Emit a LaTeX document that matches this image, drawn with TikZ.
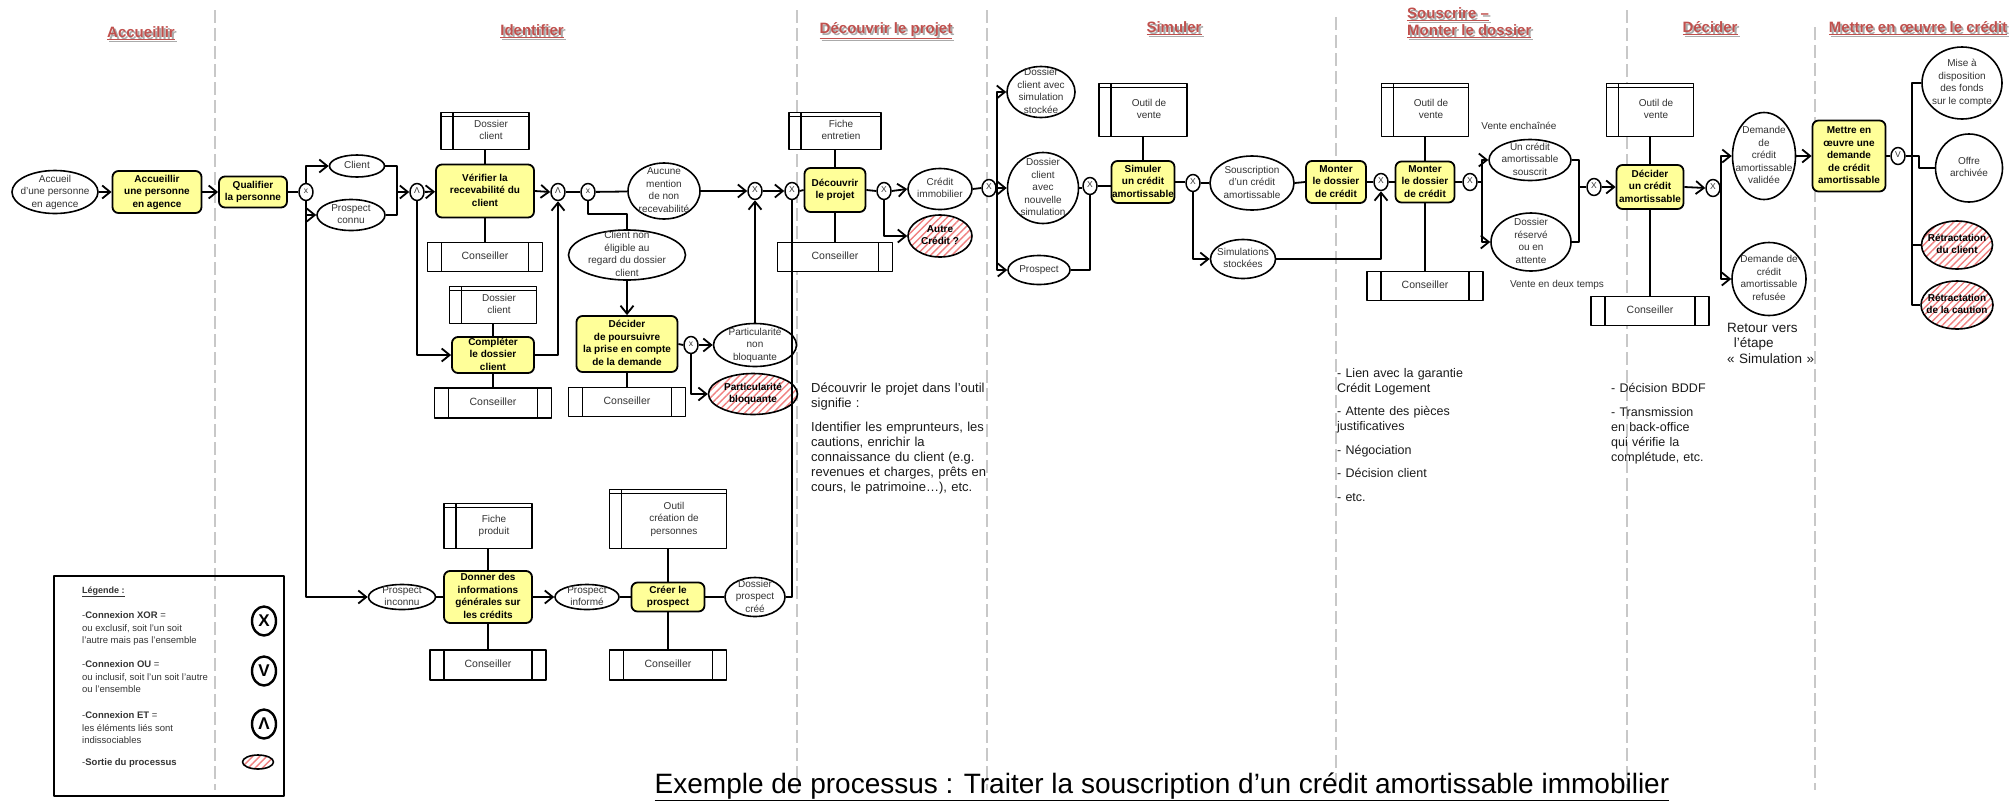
\documentclass[tikz,border=0pt]{standalone}
\usepackage{fontspec}
\setmainfont{Liberation Sans}
\usetikzlibrary{arrows.meta,shapes.geometric,patterns.meta}
\definecolor{boxyel}{HTML}{FFFF99}
\definecolor{txt}{HTML}{333333}
\definecolor{ttlred}{HTML}{C0504D}
\definecolor{ttlshadow}{HTML}{AAAAAA}
\definecolor{hatch}{HTML}{F08080}
\definecolor{sepgray}{HTML}{C8C8C8}
\definecolor{notetxt}{HTML}{1A1A1A}
\newcommand\ntx[2][0pt]{\makebox[0pt]{\hspace*{#1}\smash{\raisebox{-0.25em}{\begin{tabular}{@{}c@{}}#2\end{tabular}}}}}
\begin{document}
\begin{tikzpicture}[x=1pt,y=-1pt,line join=round,
 sz/.style 2 args={minimum width=#1pt,minimum height=#2pt},
 box/.style={rectangle,rounded corners=6pt,draw,fill=boxyel,line width=1.8pt,inner sep=0pt,font=\fontsize{10}{12.5}\selectfont\bfseries},
 evt/.style={ellipse,draw,fill=white,line width=1.6pt,inner sep=0pt,text=txt,font=\fontsize{10}{12.5}\selectfont},
 exitevt/.style={ellipse,draw,line width=1.6pt,inner sep=0pt,pattern={Lines[angle=45,distance=5pt,line width=1.4pt]},pattern color=hatch,font=\fontsize{10}{12.5}\selectfont\bfseries},
 gate/.style={ellipse,draw,fill=white,line width=1.5pt,inner sep=0pt,minimum width=14pt,minimum height=17pt,text=txt,font=\fontsize{8.5}{9}\selectfont},
 lgate/.style={ellipse,draw,fill=white,line width=2.4pt,inner sep=0pt,minimum width=24pt,minimum height=29pt,font=\fontsize{17}{28}\selectfont\bfseries},
 doc/.style={rectangle,draw,fill=white,line width=1.6pt,inner sep=0pt,text=txt,font=\fontsize{10}{12.5}\selectfont,
   path picture={\draw[line width=1.6pt] ([xshift=12pt]path picture bounding box.north west) -- ([xshift=12pt]path picture bounding box.south west);
   \draw[line width=1.6pt] ([yshift=-4pt]path picture bounding box.north west) -- ([yshift=-4pt]path picture bounding box.north east);}},
 actor/.style={rectangle,draw,fill=white,line width=1.6pt,inner sep=0pt,text=txt,font=\fontsize{10.5}{12.5}\selectfont,
   path picture={\draw[line width=1.6pt] ([xshift=14pt]path picture bounding box.north west) -- ([xshift=14pt]path picture bounding box.south west);
   \draw[line width=1.6pt] ([xshift=-14pt]path picture bounding box.north east) -- ([xshift=-14pt]path picture bounding box.south east);}},
 conn/.style={line width=1.8pt},
 arr/.style={conn,-{Straight Barb[length=8pt,width=13pt]}},
 ttl/.style={text=ttlred,font=\fontsize{15}{17}\selectfont\bfseries,inner sep=0pt},
 ttlsh/.style={text=ttlshadow,font=\fontsize{15}{17}\selectfont\bfseries,inner sep=0pt},
 sep/.style={draw=sepgray,line width=2pt,dash pattern=on 13pt off 5pt},
 note/.style={align=left,inner sep=0pt,text=notetxt,text width=210pt},
 smalltxt/.style={inner sep=0pt,text=txt,font=\fontsize{10}{12}\selectfont},
 lgtxt/.style={inner sep=0pt,text=txt,align=left,font=\fontsize{9.5}{12.5}\selectfont}
]
\useasboundingbox (0,0) rectangle (2015,804);
% separators
\foreach \sx/\sy in {215/10,797/10,987/10,1336/17,1627/10,1815/27} \draw[sep] (\sx,\sy) -- (\sx,790);

% titles
\node[ttlsh] (t1s) at (143,35) {\underline{Accueillir}};
\node[ttl] (t1) at (141,33) {\underline{Accueillir}};
\node[ttlsh] (t2s) at (534,33) {\underline{Identifier}};
\node[ttl] (t2) at (532,31) {\underline{Identifier}};
\node[ttlsh] (t3s) at (888,33) {\underline{Découvrir le projet}};
\node[ttl] (t3) at (886,31) {\underline{Découvrir le projet}};
\node[ttlsh] (t4s) at (1176,30) {\underline{Simuler}};
\node[ttl] (t4) at (1174,28) {\underline{Simuler}};
\node[ttlsh,align=left,anchor=west] (t5s) at (1409,25) {\underline{Souscrire –}\\\underline{Monter le dossier}};
\node[ttl,align=left,anchor=west] (t5) at (1407,23) {\underline{Souscrire –}\\\underline{Monter le dossier}};
\node[ttlsh] (t6s) at (1712,30) {\underline{Décider}};
\node[ttl] (t6) at (1710,28) {\underline{Décider}};
\node[ttlsh] (t7s) at (1920,30) {\underline{Mettre en œuvre le crédit}};
\node[ttl] (t7) at (1918,28) {\underline{Mettre en œuvre le crédit}};

% nodes - top flow
\node[evt,sz={86}{43}] (eAccueil) at (55,192) {\ntx{Accueil\\d’une personne\\en agence}};
\node[box,sz={89}{42}] (bAccueillir) at (157,192) {\ntx{Accueillir\\une personne\\en agence}};
\node[box,sz={68}{31}] (bQualifier) at (253,192) {\ntx{Qualifier\\la personne}};
\node[gate] (g1) at (306,192) {\ntx{x}};
\node[evt,sz={55}{22}] (eClient) at (357,166) {\ntx{Client}};
\node[evt,sz={68}{31}] (ePconnu) at (351,215) {\ntx{Prospect\\connu}};
\coordinate (j1) at (397,192);
\node[gate] (g2) at (417,192) {\ntx{Λ}};
\node[box,sz={98}{53}] (bVerifier) at (485,191) {\ntx{Vérifier la\\recevabilité du\\client}};
\node[doc,sz={88}{37}] (dDc1) at (485,131) {\ntx[12pt]{Dossier\\client}};
\node[actor,sz={115}{29}] (aC1) at (485,257) {\ntx{Conseiller}};
\node[doc,sz={87}{37}] (dDc2) at (493,305) {\ntx[12pt]{Dossier\\client}};
\node[box,sz={82}{36}] (bCompleter) at (493,355) {\ntx{Compléter\\le dossier\\client}};
\node[actor,sz={117}{30}] (aC2) at (493,403) {\ntx{Conseiller}};
\node[gate] (g3) at (558,192) {\ntx{Λ}};
\node[gate] (g4) at (588,192) {\ntx{x}};
\node[evt,sz={72}{56}] (eAucune) at (664,191) {\ntx{Aucune\\mention\\de non\\recevabilité}};
\coordinate (c1) at (627,214);
\node[evt,sz={117}{50}] (eNonElig) at (627,255) {\ntx{Client non\\éligible au\\regard du dossier\\client}};
\node[box,sz={101}{56}] (bDecider1) at (627,344) {\ntx{Décider\\de poursuivre\\la prise en compte\\de la demande}};
\node[actor,sz={117}{29}] (aC3) at (627,402) {\ntx{Conseiller}};
\node[gate] (g5) at (691,345) {\ntx{x}};
\node[evt,sz={83}{43}] (eNonBloq) at (755,345) {\ntx{Particularité\\non\\bloquante}};
\node[exitevt,sz={89}{41}] (eBloq) at (753,394) {\ntx{Particularité\\bloquante}};
\node[gate] (g6) at (755,191) {\ntx{X}};
\node[gate] (g7) at (792,191) {\ntx{X}};
\node[doc,sz={92}{37}] (dFiche) at (835,131) {\ntx[12pt]{Fiche\\entretien}};
\node[box,sz={61}{44}] (bDecouvrir) at (835,190) {\ntx{Découvrir\\le projet}};
\node[actor,sz={115}{29}] (aC4) at (835,257) {\ntx{Conseiller}};
\node[gate] (g8) at (884,191) {\ntx{X}};
\node[evt,sz={64}{41}] (eCredImmo) at (940,189) {\ntx{Crédit\\immobilier}};
\node[exitevt,sz={64}{42}] (eAutre) at (940,236) {\ntx{Autre\\Crédit ?}};
\node[gate] (g9) at (989,188) {\ntx{X}};
\node[evt,sz={68}{51}] (eDcSim) at (1041,92) {\ntx{Dossier\\client avec\\simulation\\stockée}};
\node[evt,sz={71}{71}] (eDcNouv) at (1043,188) {\ntx{Dossier\\client\\avec\\nouvelle\\simulation}};
\node[evt,sz={62}{29}] (eProspect) at (1039,270) {\ntx{Prospect}};
\node[gate] (g10) at (1090,186) {\ntx{X}};
\node[doc,sz={88}{53}] (dOutil1) at (1143,110) {\ntx[12pt]{Outil de\\vente}};
\node[box,sz={63}{42}] (bSimuler) at (1143,182) {\ntx{Simuler\\un crédit\\amortissable}};
\node[gate] (g11) at (1193,183) {\ntx{X}};
\node[evt,sz={84}{54}] (eSouscr) at (1252,183) {\ntx{Souscription\\d’un crédit\\amortissable}};
\node[evt,sz={65}{39}] (eSimStock) at (1243,259) {\ntx{Simulations\\stockées}};
\node[box,sz={60}{42}] (bMonter1) at (1336,182) {\ntx{Monter\\le dossier\\de crédit}};
\node[gate] (g12) at (1381,182) {\ntx{X}};
\node[box,sz={59}{41}] (bMonter2) at (1425,182) {\ntx{Monter\\le dossier\\de crédit}};
\node[doc,sz={87}{53}] (dOutil2) at (1425,110) {\ntx[12pt]{Outil de\\vente}};
\node[actor,sz={116}{29}] (aC5) at (1425,286) {\ntx{Conseiller}};
\node[gate] (g13) at (1470,182) {\ntx{X}};
\coordinate (t13) at (1482,182);
\node[evt,sz={82}{41}] (eSouscrit) at (1530,160) {\ntx{Un crédit\\amortissable\\souscrit}};
\node[evt,sz={80}{58}] (eReserve) at (1531,242) {\ntx{Dossier\\réservé\\ou en\\attente}};
\coordinate (j14) at (1579,187);
\node[gate] (g14) at (1594,187) {\ntx{X}};
\node[box,sz={67}{44}] (bDecider2) at (1650,187) {\ntx{Décider\\un crédit\\amortissable}};
\node[doc,sz={87}{53}] (dOutil3) at (1650,110) {\ntx[12pt]{Outil de\\vente}};
\node[actor,sz={118}{29}] (aC6) at (1650,311) {\ntx{Conseiller}};
\node[gate] (g15) at (1713,188) {\ntx{X}};
\node[evt,sz={63}{87}] (eValid) at (1764,156) {\ntx{Demande\\de\\crédit\\amortissable\\validée}};
\node[evt,sz={74}{73}] (eRefus) at (1769,279) {\ntx{Demande de\\crédit\\amortissable\\refusée}};
\node[box,sz={73}{71}] (bMettre) at (1849,156) {\ntx{Mettre en\\œuvre une\\demande\\de crédit\\amortissable}};
\node[gate] (g16) at (1898,156) {\ntx{V}};
\coordinate (t16) at (1912,156);
\coordinate (o16) at (1919,156);
\node[evt,sz={80}{72}] (eMise) at (1962,83) {\ntx{Mise à\\disposition\\des fonds\\sur le compte}};
\node[evt,sz={67}{68}] (eOffre) at (1969,168) {\ntx{Offre\\archivée}};
\node[exitevt,sz={71}{48}] (eRetClient) at (1957,245) {\ntx{Rétractation\\du client}};
\node[exitevt,sz={72}{48}] (eRetCaution) at (1957,305) {\ntx{Rétractation\\de la caution}};

% bottom flow
\node[evt,sz={67}{25}] (ePinconnu) at (402,597) {\ntx{Prospect\\inconnu}};
\node[box,sz={88}{52}] (bDonner) at (488,597) {\ntx{Donner des\\informations\\générales sur\\les crédits}};
\node[doc,sz={88}{45}] (dFprod) at (488,526) {\ntx[12pt]{Fiche\\produit}};
\node[actor,sz={116}{30}] (aC7) at (488,665) {\ntx{Conseiller}};
\node[evt,sz={64}{25}] (ePinforme) at (587,597) {\ntx{Prospect\\informé}};
\node[box,sz={73}{29}] (bCreer) at (668,597) {\ntx{Créer le\\prospect}};
\node[doc,sz={117}{59}] (dOutilCre) at (668,519) {\ntx[12pt]{Outil\\création de\\personnes}};
\node[actor,sz={117}{30}] (aC8) at (668,665) {\ntx{Conseiller}};
\node[evt,sz={60}{39}] (eDpCree) at (755,597) {\ntx{Dossier\\prospect\\créé}};

% connectors
\draw[arr] (eAccueil) -- (bAccueillir);
\draw[arr] (bAccueillir) -- (bQualifier);
\draw[conn] (bQualifier) -- (g1);
\draw[arr] (g1.north) |- (eClient.west);
\draw[arr] (g1.south) |- (ePconnu.west);
\draw[arr] (g1.south) |- (ePinconnu.west);
\draw[conn] (eClient.east) -| (j1);
\draw[conn] (ePconnu.east) -| (j1);
\draw[arr] (j1) -- (g2.west);
\draw[arr] (g2) -- (bVerifier);
\draw[arr] (g2.south) |- (bCompleter.west);
\draw[conn] (dDc1) -- (bVerifier);
\draw[conn] (bVerifier) -- (aC1);
\draw[conn] (dDc2) -- (bCompleter);
\draw[conn] (bCompleter) -- (aC2);
\draw[arr] (bVerifier.east) -- (g3.west);
\draw[arr] (bCompleter.east) -| (g3.south);
\draw[conn] (g3) -- (g4);
\draw[conn] (g4) -- (eAucune);
\draw[arr] (eAucune.east) -- (g6.west);
\draw[conn] (g4.south) |- (c1) -- (eNonElig.north);
\draw[arr] (eNonElig.south) -- (bDecider1.north);
\draw[conn] (bDecider1) -- (aC3);
\draw[conn] (bDecider1.east) -- (g5.west);
\draw[arr] (g5.east) -- (eNonBloq.west);
\draw[arr] (g5.south) |- (eBloq.west);
\draw[arr] (eNonBloq.north) -- (g6.south);
\draw[arr] (g6.east) -- (g7.west);
\draw[conn] (g7.east) -- (bDecouvrir.west);
\draw[conn] (eDpCree.east) -| (g7.south);
\draw[conn] (dFiche) -- (bDecouvrir);
\draw[conn] (bDecouvrir) -- (aC4);
\draw[conn] (bDecouvrir.east) -- (g8.west);
\draw[arr] (g8.east) -- (eCredImmo.west);
\draw[arr] (g8.south) |- (eAutre.west);
\draw[conn] (eCredImmo.east) -- (g9.west);
\draw[arr] (g9.east) |- (eDcSim.west);
\draw[arr] (g9.east) -- (eDcNouv.west);
\draw[arr] (g9.east) |- (eProspect.west);
\draw[conn] (eDcNouv.east) -- (eDcNouv.east -| g10.west);
\draw[conn] (eProspect.east) -| (g10.south);
\draw[conn] (g10.east) -- (g10.east -| bSimuler.west);
\draw[conn] (dOutil1) -- (bSimuler);
\draw[conn] (bSimuler.east) -- (bSimuler.east -| g11.west);
\draw[conn] (g11.east) -- (eSouscr.west);
\draw[arr] (g11.south) |- (eSimStock.west);
\draw[conn] (eSouscr.east) -- (bMonter1.west);
\draw[conn] (bMonter1.east) -- (g12.west);
\draw[arr] (eSimStock.east) -| (g12.south);
\draw[conn] (g12.east) -- (bMonter2.west);
\draw[conn] (dOutil2) -- (bMonter2);
\draw[conn] (bMonter2) -- (aC5);
\draw[conn] (bMonter2.east) -- (g13.west);
\draw[conn] (g13.east) -- (t13);
\draw[arr] (t13) |- (eSouscrit.west);
\draw[arr] (t13) |- (eReserve.west);
\draw[conn] (eSouscrit.east) -| (j14);
\draw[conn] (eReserve.east) -| (j14);
\draw[conn] (j14) -- (g14.west);
\draw[arr] (g14.east) -- (bDecider2.west);
\draw[conn] (dOutil3) -- (bDecider2);
\draw[conn] (bDecider2) -- (aC6);
\draw[arr] (bDecider2.east) -- (g15.west);
\draw[arr] (g15.east) |- (eValid.west);
\draw[arr] (g15.east) |- (eRefus.west);
\draw[arr] (eValid.east) -- (eValid.east -| bMettre.west);
\draw[conn] (bMettre.east) -- (g16.west);
\draw[conn] (g16.east) -- (t16);
\draw[conn] (t16) |- (eMise.west);
\draw[conn] (t16) -- (o16) |- (eOffre.west);
\draw[conn] (t16) |- (eRetClient.west);
\draw[conn] (t16) |- (eRetCaution.west);
\draw[conn] (ePinconnu) -- (bDonner);
\draw[conn] (dFprod) -- (bDonner);
\draw[conn] (bDonner) -- (aC7);
\draw[arr] (bDonner.east) -- (ePinforme.west);
\draw[conn] (ePinforme) -- (bCreer);
\draw[conn] (dOutilCre) -- (bCreer);
\draw[conn] (bCreer) -- (aC8);
\draw[conn] (bCreer) -- (eDpCree);

% free texts
\node[smalltxt] (vEnch) at (1519,126) {Vente enchaînée};
\node[smalltxt] (vDeux) at (1557,285) {Vente en deux temps};
\node[note,anchor=north west,font=\fontsize{13}{15}\selectfont] (nDecouvrir) at (811,383)
 {Découvrir le projet dans l’outil\\signifie :\\[9pt]Identifier les emprunteurs, les\\cautions, enrichir la\\connaissance du client (e.g.\\revenues et charges, prêts en\\cours, le patrimoine…), etc.};
\node[note,anchor=north west,font=\fontsize{12.5}{15}\selectfont] (nSouscrire) at (1337,368)
 {- Lien avec la garantie\\Crédit Logement\\[8.5pt]- Attente des pièces\\justificatives\\[8.5pt]- Négociation\\[8.5pt]- Décision client\\[8.5pt]- etc.};
\node[note,anchor=north west,font=\fontsize{12.5}{15}\selectfont] (nDecider) at (1611,383)
 {- Décision BDDF\\[9pt]- Transmission\\en back-office\\qui vérifie la\\complétude, etc.};
\node[note,anchor=north west,font=\fontsize{13.5}{15.5}\selectfont] (nRetour) at (1727,323)
 {Retour vers\\\ \,l’étape\\« Simulation »};

% legend
\node[draw,line width=1.6pt,sz={230}{220}] (legend) at (169,686) {};
\node[lgtxt,anchor=west,font=\fontsize{9}{11}\selectfont\bfseries] (lg0) at (82,592) {\underline{Légende :}};
\node[lgtxt,anchor=west] (lg1) at (82,629) {-\textbf{Connexion XOR} =\\ou exclusif, soit l’un soit\\l’autre mais pas l’ensemble};
\node[lgtxt,anchor=west] (lg2) at (82,677) {-\textbf{Connexion OU} =\\ou inclusif, soit l’un soit l’autre\\ou l’ensemble};
\node[lgtxt,anchor=west] (lg3) at (82,728) {-\textbf{Connexion ET} =\\les éléments liés sont\\indissociables};
\node[lgtxt,anchor=west] (lg4) at (82,763) {-\textbf{Sortie du processus}};
\node[lgate] (lgX) at (264,621) {\ntx{X}};
\node[lgate] (lgV) at (264,671) {\ntx{V}};
\node[lgate] (lgA) at (264,724) {\ntx{Λ}};
\node[exitevt,sz={31}{14}] (lgE) at (258,762) {};

% caption
\node[anchor=base,inner sep=0pt,font=\fontsize{28}{30}\selectfont] (caption) at (1162,793) {\underline{Exemple de processus : Traiter la souscription d’un crédit amortissable immobilier}};
\end{tikzpicture}
\end{document}
